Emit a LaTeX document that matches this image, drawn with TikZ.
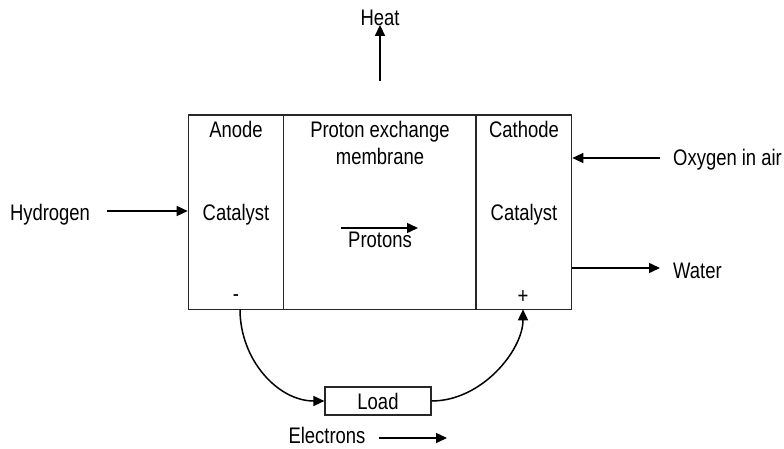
\documentclass[tikz,border=0pt]{standalone}
\usepackage{fontspec}
\setmainfont{Liberation Sans}[FakeStretch=0.82]
\usetikzlibrary{arrows.meta}
\tikzset{
  part/.style={draw=black!85, line width=1.2pt, minimum height=194.3pt, inner sep=0pt},
  arr/.style={line width=1.5pt, -{Triangle[length=11pt,width=10pt]}},
  wire/.style={line width=1.5pt},
  lbl/.style={inner sep=0pt, anchor=base},
}
\begin{document}
\begin{tikzpicture}[x=1pt,y=-1pt,font=\fontsize{22.5}{28}\selectfont]
\useasboundingbox (0,0) rectangle (784,449);
% compartments
\node[part, minimum width=95pt] (anode) at (235.8,212.2) {};
\node[part, minimum width=192.7pt] (pem) at (379.7,212.2) {};
\node[part, minimum width=95.7pt] (cathode) at (523.9,212.2) {};
% texts in compartments
\node[lbl] (tanode) at (236,138) {Anode};
\node[lbl] (tcatl) at (236,220) {Catalyst};
\node[lbl] (tpem1) at (380,137.5) {Proton exchange};
\node[lbl] (tpem2) at (380,165) {membrane};
\node[lbl] (tcath) at (524,138) {Cathode};
\node[lbl] (tcatr) at (524,220) {Catalyst};
\node[lbl] (tprot) at (380,247.5) {Protons};
\node[inner sep=0pt] (minus) at (236,298) {-};
\node[inner sep=0pt] (plus) at (523,297) {+};
% protons arrow
\coordinate (pa) at (341,228);
\coordinate (pb) at (418,228);
\draw[arr] (pa) -- (pb);
% heat
\node[lbl] (heat) at (380,26) {Heat};
\coordinate (heatsrc) at (380,81);
\draw[arr] (heatsrc) -- ([yshift=1.5pt]heatsrc |- heat.south);
% hydrogen
\node[lbl] (hyd) at (50,220) {Hydrogen};
\coordinate (hydout) at (107,211);
\draw[arr] (hydout) -- (hydout -| anode.west);
% oxygen
\node[lbl, anchor=base west] (oxy) at (673,166) {Oxygen in air};
\coordinate (oxysrc) at (660,158);
\draw[arr] (oxysrc) -- (oxysrc -| cathode.east);
% water
\node[lbl, anchor=base west] (water) at (673,278) {Water};
\coordinate (watend) at (660,268);
\draw[arr] (watend -| cathode.east) -- (watend);
% load
\node[draw=black!85, line width=1.2pt, minimum width=106pt, minimum height=28pt, inner sep=0pt] (load) at (378,401) {Load};
\coordinate (negout) at (240,309.3);
\coordinate (posin) at (523,309.3);
\draw[arr] (negout) .. controls (240,360) and (278,401) .. (load.west);
\draw[arr] (load.east) .. controls (482,401) and (523,350) .. (posin);
% electrons
\node[lbl] (elec) at (327,443) {Electrons};
\coordinate (ea) at (379,438);
\coordinate (eb) at (447,438);
\draw[arr] (ea) -- (eb);
\end{tikzpicture}
\end{document}
